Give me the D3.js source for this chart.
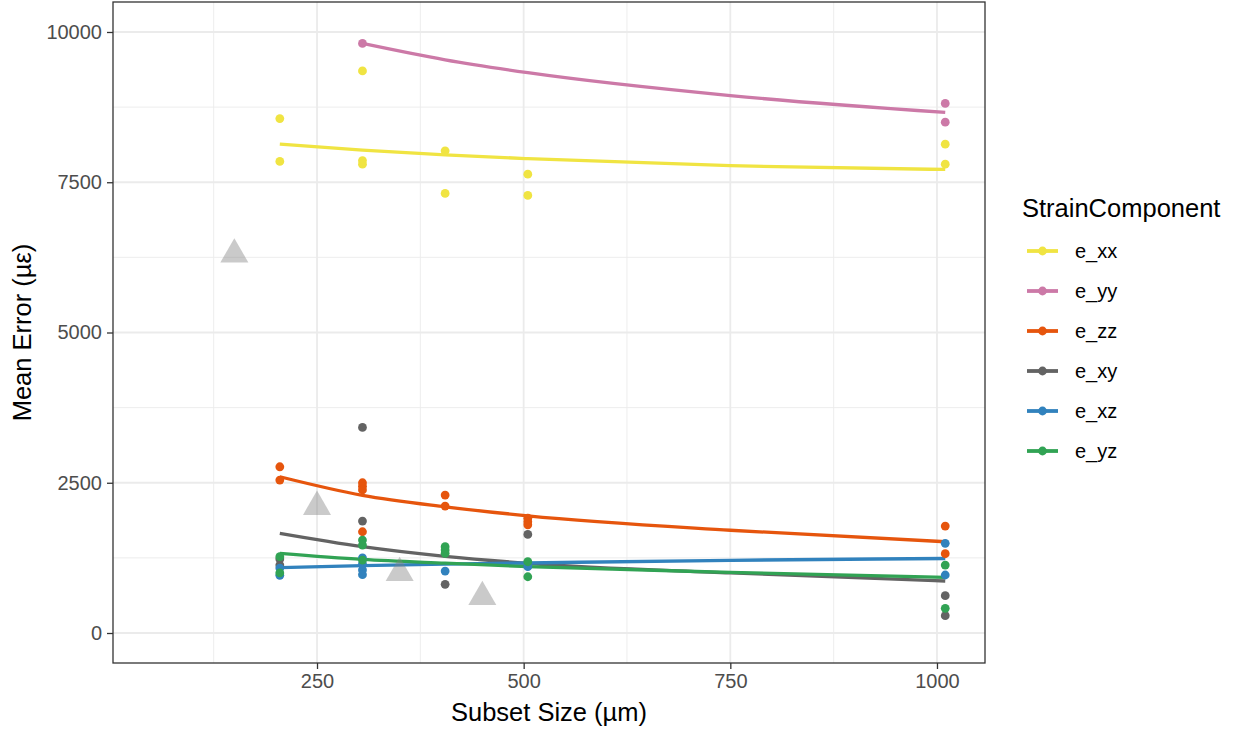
<!DOCTYPE html>
<html>
<head>
<meta charset="utf-8">
<script src="https://cdn.jsdelivr.net/npm/d3@7"></script>
<style>
  html, body { margin: 0; padding: 0; background: #fff; }
  svg { display: block; font-family: "Liberation Sans", Arial, Helvetica, sans-serif; }
</style>
</head>
<body>
<svg id="chart" width="1238" height="732"></svg>
<script>
// Strain components and their colours
const components = ["e_xx", "e_yy", "e_zz", "e_xy", "e_xz", "e_yz"];
const componentColors = ["#F0E442", "#CC79A7", "#E6550D", "#636363", "#3182BD", "#31A354"];

// Measured mean errors: [subset size (µm), mean error (µε)]
const pointsXX = [[205, 8560], [205, 7846], [305, 9353], [305, 7860], [305, 7800],
                  [405, 8022], [405, 7314], [505, 7635], [505, 7280], [1010, 8134], [1010, 7801]];
const pointsYY = [[305, 9810], [1010, 8811], [1010, 8500]];
const pointsZZ = [[205, 2766], [205, 2545], [305, 2500], [305, 2440], [305, 2380], [305, 1685],
                  [405, 2295], [405, 2112], [505, 1910], [505, 1850], [505, 1800],
                  [1010, 1780], [1010, 1319]];
const pointsXY = [[205, 1230], [205, 1130], [305, 3421], [305, 1863], [405, 810],
                  [505, 1641], [1010, 621], [1010, 288]];
const pointsXZ = [[205, 1080], [205, 960], [305, 1250], [305, 1150], [305, 1050], [305, 970],
                  [405, 1031], [505, 1103], [1010, 1492], [1010, 965]];
const pointsYZ = [[205, 1270], [205, 1000], [305, 1547], [305, 1464], [305, 1214],
                  [405, 1436], [405, 1380], [405, 1326], [505, 1186], [505, 936],
                  [1010, 1131], [1010, 411]];

// Trend curves sampled along subset size
const trendSizes = [205, 305, 405, 505, 750, 1010];
const trendXX = [8134, 8034, 7955, 7893, 7775, 7713];
const trendYY = [null, 9810, 9537, 9323, 8942, 8661];
const trendZZ = [2600, 2290, 2100, 1950, 1710, 1519];
const trendXY = [1658, 1436, 1275, 1160, 1000, 865];
const trendXZ = [1087, 1120, 1145, 1165, 1210, 1240];
const trendYZ = [1326, 1226, 1162, 1105, 1010, 926];

// Reference values (grey triangles)
const refSizes = [150, 250, 350, 450];
const refErrors = [6300, 2100, 1000, 600];

// Axis ticks
const xTicks = [250, 500, 750, 1000];
const xMinorTicks = [125, 375, 625, 875];
const yTicks = [0, 2500, 5000, 7500, 10000];
const yMinorTicks = [1250, 3750, 6250, 8750];

const pointSets = [pointsXX, pointsYY, pointsZZ, pointsXY, pointsXZ, pointsYZ];
const trendSets = [trendXX, trendYY, trendZZ, trendXY, trendXZ, trendYZ];

const svg = d3.select("#chart");
const panel = { left: 113, right: 985, top: 2, bottom: 663 };

const x = d3.scaleLinear().domain([3.2, 1058.1]).range([panel.left, panel.right]);
const y = d3.scaleLinear().domain([-499, 10499]).range([panel.bottom, panel.top]);
const color = d3.scaleOrdinal().domain(components).range(componentColors);

// Panel background
svg.append("rect")
  .attr("x", panel.left).attr("y", panel.top)
  .attr("width", panel.right - panel.left).attr("height", panel.bottom - panel.top)
  .attr("fill", "#fff");

// Grid lines
const grid = svg.append("g");
grid.selectAll("line.xminor").data(xMinorTicks).join("line")
  .attr("x1", d => x(d)).attr("x2", d => x(d))
  .attr("y1", panel.top).attr("y2", panel.bottom)
  .attr("stroke", "#ebebeb").attr("stroke-width", 0.9);
grid.selectAll("line.yminor").data(yMinorTicks).join("line")
  .attr("y1", d => y(d)).attr("y2", d => y(d))
  .attr("x1", panel.left).attr("x2", panel.right)
  .attr("stroke", "#ebebeb").attr("stroke-width", 0.9);
grid.selectAll("line.xmajor").data(xTicks).join("line")
  .attr("x1", d => x(d)).attr("x2", d => x(d))
  .attr("y1", panel.top).attr("y2", panel.bottom)
  .attr("stroke", "#ebebeb").attr("stroke-width", 1.8);
grid.selectAll("line.ymajor").data(yTicks).join("line")
  .attr("y1", d => y(d)).attr("y2", d => y(d))
  .attr("x1", panel.left).attr("x2", panel.right)
  .attr("stroke", "#ebebeb").attr("stroke-width", 1.8);

// Trend curves
const line = d3.line()
  .defined(d => d[1] != null)
  .x(d => x(d[0])).y(d => y(d[1]))
  .curve(d3.curveMonotoneX);

components.forEach((c, i) => {
  svg.append("path")
    .datum(trendSizes.map((s, j) => [s, trendSets[i][j]]))
    .attr("d", line)
    .attr("fill", "none")
    .attr("stroke", color(c))
    .attr("stroke-width", 3.3)
    .attr("stroke-linecap", "butt");
});

// Measured points
components.forEach((c, i) => {
  svg.append("g").selectAll("circle").data(pointSets[i]).join("circle")
    .attr("cx", d => x(d[0])).attr("cy", d => y(d[1]))
    .attr("r", 4.4)
    .attr("fill", color(c));
});

// Reference triangles
const tri = d3.symbol().type(d3.symbolTriangle).size(340);
svg.append("g").selectAll("path").data(refSizes.map((s, i) => [s, refErrors[i]])).join("path")
  .attr("transform", d => `translate(${x(d[0])},${y(d[1])})`)
  .attr("d", tri)
  .attr("fill", "#808080")
  .attr("fill-opacity", 0.42);

// Panel border
svg.append("rect")
  .attr("x", panel.left).attr("y", panel.top)
  .attr("width", panel.right - panel.left).attr("height", panel.bottom - panel.top)
  .attr("fill", "none").attr("stroke", "#333").attr("stroke-width", 1.3);

// Axes
const xAxis = svg.append("g")
  .attr("transform", `translate(0,${panel.bottom})`)
  .call(d3.axisBottom(x).tickValues(xTicks).tickSize(6).tickPadding(5).tickFormat(d3.format("d")));
const yAxis = svg.append("g")
  .attr("transform", `translate(${panel.left},0)`)
  .call(d3.axisLeft(y).tickValues(yTicks).tickSize(6).tickPadding(5).tickFormat(d3.format("d")));
[xAxis, yAxis].forEach(a => {
  a.select(".domain").remove();
  a.selectAll(".tick line").attr("stroke", "#333").attr("stroke-width", 1.3);
  a.selectAll(".tick text").attr("fill", "#4d4d4d").attr("font-size", 20)
    .attr("font-family", "'Liberation Sans', Arial, sans-serif");
});

// Axis titles
svg.append("text")
  .attr("x", (panel.left + panel.right) / 2).attr("y", 721)
  .attr("text-anchor", "middle").attr("font-size", 25.5).attr("fill", "#000")
  .text("Subset Size (µm)");
svg.append("text")
  .attr("transform", `translate(31,${(panel.top + panel.bottom) / 2}) rotate(-90)`)
  .attr("text-anchor", "middle").attr("font-size", 25.5).attr("fill", "#000")
  .text("Mean Error (µε)");

// Legend
const legend = svg.append("g");
legend.append("text")
  .attr("x", 1022).attr("y", 217)
  .attr("font-size", 25.5).attr("fill", "#000")
  .text("StrainComponent");
components.forEach((c, i) => {
  const ky = 251 + i * 40;
  legend.append("line")
    .attr("x1", 1027).attr("x2", 1058).attr("y1", ky).attr("y2", ky)
    .attr("stroke", color(c)).attr("stroke-width", 3.8);
  legend.append("circle")
    .attr("cx", 1042.5).attr("cy", ky).attr("r", 4.4).attr("fill", color(c));
  legend.append("text")
    .attr("x", 1075).attr("y", ky).attr("dy", "0.36em")
    .attr("font-size", 20).attr("fill", "#000")
    .text(c);
});
</script>
</body>
</html>
